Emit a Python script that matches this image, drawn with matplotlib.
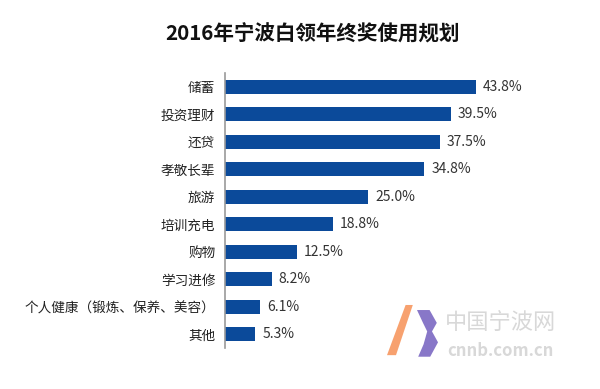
import matplotlib
matplotlib.use('Agg')
from matplotlib import pyplot as plt
from matplotlib.patches import Polygon

plt.rcParams['font.family'] = ['Noto Sans CJK SC', 'DejaVu Sans']

categories = ['储蓄', '投资理财', '还贷', '孝敬长辈', '旅游', '培训充电', '购物',
              '学习进修', '个人健康（锻炼、保养、美容）', '其他']
values = [43.8, 39.5, 37.5, 34.8, 25.0, 18.8, 12.5, 8.2, 6.1, 5.3]
value_labels = ['43.8%', '39.5%', '37.5%', '34.8%', '25.0%', '18.8%', '12.5%',
                '8.2%', '6.1%', '5.3%']

fig = plt.figure(figsize=(6, 3.89), dpi=100)
ax = fig.add_axes([0.375, 0.1054, 0.5583, 0.7069])

ypos = list(range(len(categories)))
ax.barh(ypos, values, height=0.5, color='#0b4a9a')
for y, v, lab in zip(ypos, values, value_labels):
    ax.text(v + 1.2, y, lab, va='center', ha='left', fontsize=10, color='#333333')

ax.set_xlim(0, 58.5)
ax.set_ylim(9.5, -0.5)
ax.set_yticks(ypos)
ax.set_yticklabels(categories, fontsize=9.8, color='#222222')
ax.tick_params(axis='y', length=0, pad=7)
ax.set_xticks([])
for s in ['top', 'right', 'bottom']:
    ax.spines[s].set_visible(False)
ax.spines['left'].set_color('#9a9a9a')
ax.spines['left'].set_linewidth(1.2)

fig.text(0.52, 0.913, '2016年宁波白领年终奖使用规划', ha='center', va='center',
         fontsize=14.8, fontweight='bold', color='#111111')

# watermark (logo + site name)
fig.patches.append(Polygon([[0.645, 0.087], [0.660, 0.087], [0.688, 0.216], [0.676, 0.216]],
                           closed=True, transform=fig.transFigure,
                           facecolor='#f7975f', alpha=0.9, edgecolor='none'))
fig.patches.append(Polygon([[0.695, 0.203], [0.716, 0.203], [0.728, 0.17], [0.72, 0.148],
                            [0.73, 0.12], [0.717, 0.083], [0.697, 0.083], [0.706, 0.115],
                            [0.712, 0.148], [0.705, 0.17]],
                           closed=True, transform=fig.transFigure,
                           facecolor='#7b68c2', alpha=0.9, edgecolor='none'))
fig.text(0.742, 0.17, '中国宁波网', fontsize=16, color='#d8d8d8', ha='left', va='center')
fig.text(0.745, 0.098, 'cnnb.com.cn', fontsize=12, color='#d8d8d8', ha='left', va='center',
         style='italic', fontweight='bold')

fig.savefig('out.png', dpi=100)
